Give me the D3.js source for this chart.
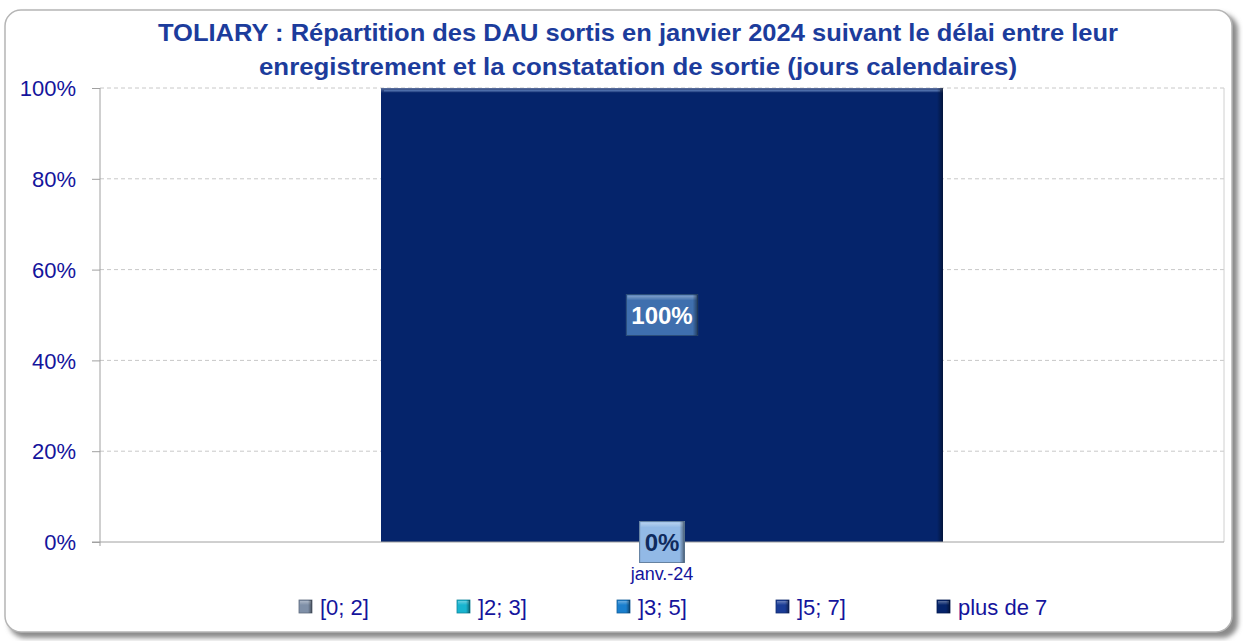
<!DOCTYPE html>
<html>
<head>
<meta charset="utf-8">
<script src="https://cdn.jsdelivr.net/npm/d3@7"></script>
<style>
  body { margin: 0; background: #fff; }
  svg { display: block; }
</style>
</head>
<body>
<script>
// chart data
const categories = ["janv.-24"];
const seriesNames = ["[0; 2]", "]2; 3]", "]3; 5]", "]5; 7]", "plus de 7"];
const seriesValues = [[0], [0], [0], [0], [100]]; // one value per category
const yTicks = [0, 20, 40, 60, 80, 100];
const titleLines = [
  "TOLIARY : Répartition des DAU sortis en janvier 2024 suivant le délai entre leur",
  "enregistrement et la constatation de sortie (jours calendaires)"
];

const colors = ["#7f90a8", "#18b4d0", "#1a7fce", "#1a3c96", "#05246b"];
const labelFill = ["#92b9e6", "#92b9e6", "#92b9e6", "#92b9e6", "#3f6fae"];
const labelText = ["#0f2a5e", "#0f2a5e", "#0f2a5e", "#0f2a5e", "#ffffff"];

const W = 1243, H = 641;
const margin = {top: 88, right: 19, bottom: 99, left: 100};
const font = "'Liberation Sans', Arial, sans-serif";
const axisBlue = "#14149c";

const svg = d3.select("body").append("svg")
  .attr("width", W).attr("height", H)
  .style("font-family", font);

const defs = svg.append("defs");
defs.append("filter").attr("id", "shadow")
  .attr("x", "-5%").attr("y", "-5%").attr("width", "110%").attr("height", "110%")
  .append("feGaussianBlur").attr("stdDeviation", 2.5);

// bevel gradients
const g1 = defs.append("linearGradient").attr("id", "bevelV").attr("x1", 0).attr("y1", 0).attr("x2", 0).attr("y2", 1);
g1.append("stop").attr("offset", "0%").attr("stop-color", "#fff").attr("stop-opacity", 0.35);
g1.append("stop").attr("offset", "100%").attr("stop-color", "#fff").attr("stop-opacity", 0);
const g2 = defs.append("linearGradient").attr("id", "bevelR").attr("x1", 0).attr("y1", 0).attr("x2", 1).attr("y2", 0);
g2.append("stop").attr("offset", "0%").attr("stop-color", "#000").attr("stop-opacity", 0);
g2.append("stop").attr("offset", "100%").attr("stop-color", "#000").attr("stop-opacity", 0.45);

// frame with shadow
svg.append("rect")
  .attr("x", 9).attr("y", 14).attr("width", 1229).attr("height", 624)
  .attr("rx", 16).attr("fill", "#8a8a8a").attr("filter", "url(#shadow)");
svg.append("rect")
  .attr("x", 5).attr("y", 10).attr("width", 1227).attr("height", 622)
  .attr("rx", 16).attr("fill", "#fff").attr("stroke", "#b5b5b5").attr("stroke-width", 1.5);

// title
svg.append("g").selectAll("text")
  .data(titleLines).join("text")
  .attr("x", 638).attr("y", (d, i) => 41 + i * 34)
  .attr("text-anchor", "middle")
  .attr("font-size", 24).attr("font-weight", "bold")
  .attr("fill", "#1c3c9c")
  .attr("textLength", (d, i) => i === 0 ? 960 : 758)
  .attr("lengthAdjust", "spacingAndGlyphs")
  .text(d => d);

const iw = W - margin.left - margin.right;
const ih = H - margin.top - margin.bottom;

const x = d3.scaleBand().domain(categories).range([0, iw]).padding(1 / 3);
const y = d3.scaleLinear().domain([0, 100]).range([ih, 0]);

const plot = svg.append("g").attr("transform", `translate(${margin.left},${margin.top})`);

// gridlines
plot.append("g").selectAll("line")
  .data(yTicks.filter(d => d > 0)).join("line")
  .attr("x1", 0).attr("x2", iw)
  .attr("y1", d => y(d)).attr("y2", d => y(d))
  .attr("stroke", "#c8c8c8").attr("stroke-dasharray", "4,3");
plot.append("line")
  .attr("x1", iw).attr("x2", iw).attr("y1", 0).attr("y2", ih)
  .attr("stroke", "#d0d0d0");

// stacked bars
const table = categories.map((c, j) => {
  const row = {cat: c};
  seriesNames.forEach((s, i) => row[s] = seriesValues[i][j]);
  return row;
});
const stacked = d3.stack().keys(seriesNames)(table);

const bars = plot.append("g");
stacked.forEach((layer, i) => {
  layer.forEach(d => {
    const h = y(d[0]) - y(d[1]);
    if (h <= 0) return;
    const bx = x(d.data.cat), by = y(d[1]), bw = x.bandwidth();
    bars.append("rect").attr("x", bx).attr("y", by).attr("width", bw).attr("height", h)
      .attr("fill", colors[i]);
    bars.append("rect").attr("x", bx).attr("y", by).attr("width", bw).attr("height", 5)
      .attr("fill", "url(#bevelV)");
    bars.append("rect").attr("x", bx + 3).attr("y", by + 2).attr("width", bw - 6).attr("height", 1.5)
      .attr("fill", "#5a7cb8").attr("opacity", 0.7);
    bars.append("rect").attr("x", bx + bw - 6).attr("y", by).attr("width", 6).attr("height", h)
      .attr("fill", "url(#bevelR)");
  });
});

// axes
const yAxis = d3.axisLeft(y).tickValues(yTicks).tickSize(8).tickFormat(d => d + "%");
const ya = plot.append("g").call(yAxis);
ya.select(".domain").remove();
ya.selectAll(".tick line").attr("stroke", "#a0a0a0");
ya.selectAll(".tick text").attr("x", -24).attr("dy", "0.35em")
  .attr("font-size", 22).attr("fill", axisBlue).attr("font-family", font);
plot.append("line").attr("x1", 0).attr("x2", 0).attr("y1", 0).attr("y2", ih + 4)
  .attr("stroke", "#a0a0a0");
plot.append("line").attr("x1", -8).attr("x2", iw).attr("y1", ih).attr("y2", ih)
  .attr("stroke", "#a0a0a0");

const xAxis = d3.axisBottom(x).tickSize(0);
const xa = plot.append("g").attr("transform", `translate(0,${ih})`).call(xAxis);
xa.select(".domain").remove();
xa.selectAll(".tick text").attr("dy", 0).attr("y", 38)
  .attr("font-size", 18).attr("fill", axisBlue).attr("font-family", font);

// data labels
const labels = plot.append("g");
stacked.forEach((layer, i) => {
  layer.forEach(d => {
    const cx = x(d.data.cat) + x.bandwidth() / 2;
    const cy = (y(d[0]) + y(d[1])) / 2;
    const g = labels.append("g");
    const t = g.append("text")
      .attr("x", cx).attr("y", cy).attr("dy", "0.36em")
      .attr("text-anchor", "middle")
      .attr("font-size", 24).attr("font-weight", "bold")
      .attr("fill", labelText[i])
      .text(d3.format(".0%")((d[1] - d[0]) / 100));
    const tw = t.node().getComputedTextLength();
    const bw = tw + 10, bh = 41;
    g.insert("rect", "text").attr("x", cx - bw / 2).attr("y", cy - bh / 2)
      .attr("width", bw).attr("height", bh).attr("fill", labelFill[i])
      .attr("stroke", d3.color(labelFill[i]).darker(1)).attr("stroke-width", 1);
    g.insert("rect", "text").attr("x", cx - bw / 2 + 1).attr("y", cy - bh / 2 + 1)
      .attr("width", bw - 2).attr("height", 5).attr("fill", "url(#bevelV)");
    g.insert("rect", "text").attr("x", cx + bw / 2 - 5).attr("y", cy - bh / 2)
      .attr("width", 5).attr("height", bh).attr("fill", "url(#bevelR)");
  });
});

// legend
const legendX = [299, 457, 617, 776, 937];
const legend = svg.append("g");
seriesNames.forEach((s, i) => {
  const lg = legend.append("g").attr("transform", `translate(${legendX[i]},600)`);
  lg.append("rect").attr("width", 13).attr("height", 13).attr("fill", colors[i])
    .attr("stroke", d3.color(colors[i]).darker(0.8)).attr("stroke-width", 0.8);
  lg.append("rect").attr("x", 1).attr("y", 1).attr("width", 11).attr("height", 4).attr("fill", "url(#bevelV)");
  lg.append("rect").attr("x", 9).attr("width", 4).attr("height", 13).attr("fill", "url(#bevelR)");
  lg.append("text").attr("x", 21).attr("y", 7).attr("dy", "0.36em")
    .attr("font-size", 22).attr("fill", axisBlue).text(s);
});
</script>
</body>
</html>
